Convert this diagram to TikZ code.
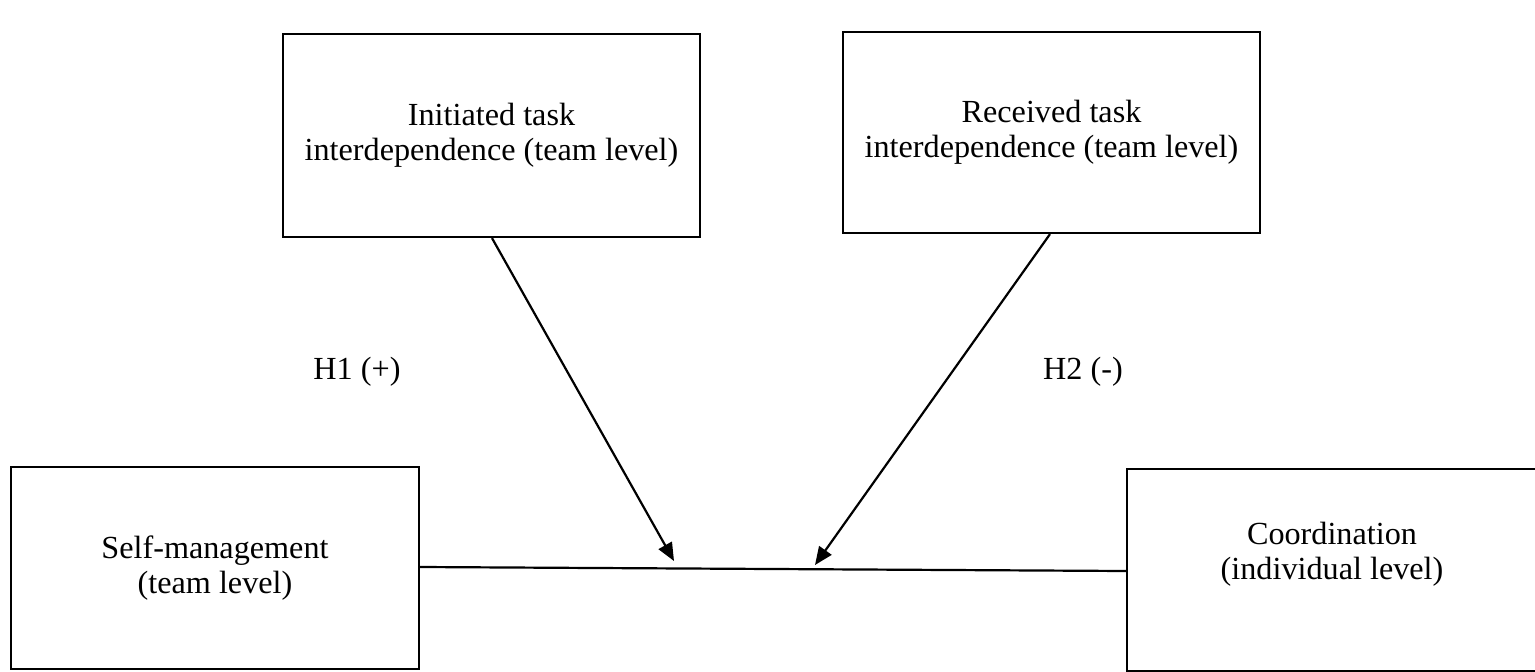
\documentclass[tikz,border=0pt]{standalone}
\usepackage{fontspec}
\setmainfont{Liberation Serif}
\usetikzlibrary{arrows.meta}
\begin{document}
\begin{tikzpicture}[x=1pt,y=-1pt,
  box/.style={draw,line width=2.2pt,rectangle,inner sep=0pt,align=center,
    font=\fontsize{32.2}{34.5}\selectfont},
  txt/.style={inner sep=0pt,align=center,font=\fontsize{32.2}{34.5}\selectfont},
  conn/.style={line width=2.2pt},
  arr/.style={line width=2.2pt,-{Triangle[length=18pt,width=15pt]}}]
\useasboundingbox (0,0) rectangle (1535,672);
\node[box,minimum width=417pt,minimum height=203pt] (init) at (491.5,135.5)
  {Initiated task\\interdependence (team level)};
\node[box,minimum width=417pt,minimum height=201pt] (recv) at (1051.5,132.5)
  {Received task\\interdependence (team level)};
\node[box,minimum width=408pt,minimum height=202pt] (self) at (215,568)
  {Self-management\\(team level)};
\node[box,minimum width=412pt,minimum height=202pt] (coord) at (1333,570) {};
\node[txt] (coordt) at (1332,554) {Coordination\\(individual level)};
\coordinate (sr) at (self.east |- 0,567);
\coordinate (cl) at (coord.west |- 0,571);
\draw[conn] (sr) -- (cl);
\coordinate (t1) at (674,561);
\coordinate (t2) at (815,565);
\coordinate (s1) at (init.south -| 492,0);
\coordinate (s2) at (recv.south -| 1050,0);
\draw[arr] (s1) -- (t1);
\draw[arr] (s2) -- (t2);
\node[txt] (h1) at (357,372) {H1 (+)};
\node[txt] (h2) at (1083,372) {H2 (-)};
\end{tikzpicture}
\end{document}
